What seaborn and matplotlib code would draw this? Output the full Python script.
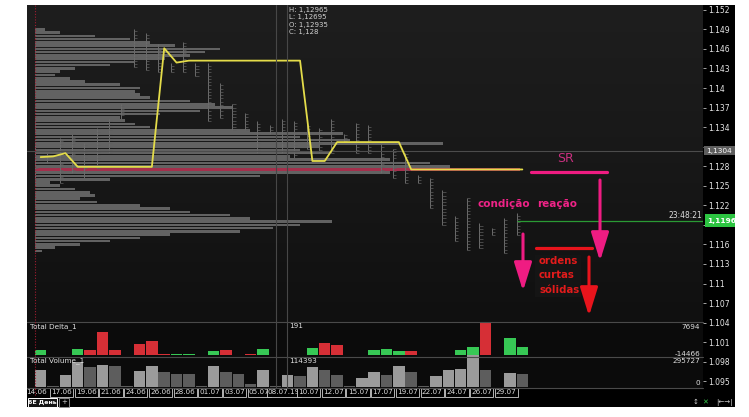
import numpy as np
import pandas as pd
import matplotlib
matplotlib.use("Agg")
import matplotlib.pyplot as plt
import seaborn as sns
from matplotlib.colors import LinearSegmentedColormap
from matplotlib.patches import Rectangle
from matplotlib.ticker import MultipleLocator, FuncFormatter

# ---------------- data ----------------
sessions = ['14.06', '16.06', '17.06', '18.06', '19.06', '20.06', '21.06', '23.06', '24.06', '25.06',
            '26.06', '27.06', '28.06', '30.06', '01.07', '02.07', '03.07', '04.07', '05.07', '07.07',
            '08.07', '09.07', '10.07', '11.07', '12.07', '14.07', '15.07', '16.07', '17.07', '18.07',
            '19.07', '21.07', '22.07', '23.07', '24.07', '25.07', '26.07', '28.07', '29.07', '30.07']
tick_labels = ['14.06', '17.06', '19.06', '21.06', '24.06', '26.06', '28.06', '01.07', '03.07', '05.07',
               '08.07.19', '10.07', '12.07', '15.07', '17.07', '19.07', '22.07', '24.07', '26.07', '29.07']
volume = [161000, 12000, 115000, 230000, 184000, 205000, 193000, 12000, 146000, 193000,
          140000, 124000, 124000, 12000, 193000, 137000, 121000, 31000, 156000, 12000,
          114393, 100000, 190000, 161000, 112000, 8000, 84000, 140000, 112000, 199000,
          140000, 6000, 106000, 156000, 165000, 295727, 156000, 3000, 131000, 121000]
volume_up = [1, 0, 1, 1, 0, 1, 0, 0, 1, 1,
             0, 0, 0, 0, 1, 0, 0, 0, 1, 0,
             1, 0, 1, 0, 0, 0, 1, 1, 0, 1,
             0, 0, 1, 1, 1, 1, 0, 0, 1, 0]
delta = [2500, -150, -200, 2900, -2340, -10200, -2190, -300, -4970, -6420,
         -500, 500, 400, 50, 1900, -2340, 300, -400, 2630, -100,
         191, 100, 3210, -5400, -4670, 100, 300, 2480, 2920, 1900,
         -1900, -100, -250, 300, 2480, 3800, -14466, 100, 7694, 3650]
yellow_line = [1.1294, 1.1295, 1.1300, 1.1279, 1.1279, 1.1279, 1.1279, 1.1279, 1.1279, 1.1279,
               1.1461, 1.1439, 1.1442, 1.1442, 1.1442, 1.1442, 1.1442, 1.1442, 1.1442, 1.1442,
               1.1442, 1.1442, 1.1288, 1.1288, 1.1317, 1.1317, 1.1317, 1.1317, 1.1317, 1.1317,
               1.1275, 1.1275, 1.1275, 1.1275, 1.1275, 1.1275, 1.1275, 1.1275, 1.1275, 1.1275]
day_high = [1.1315, 1.1300, 1.1323, 1.1330, 1.1315, 1.1338, 1.1353, 1.1376, 1.1491, 1.1485,
            1.1468, 1.1438, 1.1470, 1.1438, 1.1438, 1.1407, 1.1376, 1.1361, 1.1349, 1.1343,
            1.1353, 1.1349, 1.1346, 1.1338, 1.1353, 1.1330, 1.1346, 1.1343, 1.1315, 1.1307,
            1.1300, 1.1266, 1.1262, 1.1243, 1.1204, 1.1231, 1.1193, 1.1185, 1.1200, 1.1208]
day_low = [1.1262, 1.1285, 1.1254, 1.1269, 1.1262, 1.1277, 1.1300, 1.1353, 1.1432, 1.1427,
           1.1424, 1.1424, 1.1424, 1.1419, 1.1349, 1.1354, 1.1335, 1.1335, 1.1300, 1.1330,
           1.1300, 1.1292, 1.1307, 1.1300, 1.1300, 1.1318, 1.1300, 1.1300, 1.1269, 1.1262,
           1.1254, 1.1254, 1.1216, 1.1190, 1.1165, 1.1151, 1.1154, 1.1174, 1.1147, 1.1174]
profile_price = [1.1490, 1.1485, 1.1480, 1.1475, 1.1470, 1.1465, 1.1460, 1.1455, 1.1450, 1.1445,
                 1.1440, 1.1435, 1.1430, 1.1425, 1.1420, 1.1415, 1.1410, 1.1405, 1.1400, 1.1395,
                 1.1390, 1.1385, 1.1380, 1.1375, 1.1370, 1.1365, 1.1360, 1.1355, 1.1350, 1.1345,
                 1.1340, 1.1335, 1.1330, 1.1325, 1.1320, 1.1315, 1.1310, 1.1305, 1.1300, 1.1295,
                 1.1290, 1.1285, 1.1280, 1.1275, 1.1270, 1.1265, 1.1260, 1.1255, 1.1250, 1.1245,
                 1.1240, 1.1235, 1.1230, 1.1225, 1.1220, 1.1215, 1.1210, 1.1205, 1.1200, 1.1195,
                 1.1190, 1.1185, 1.1180, 1.1175, 1.1170, 1.1165, 1.1160, 1.1155, 1.1150]
profile_volume = [10, 25, 60, 95, 115, 140, 185, 170, 155, 130,
                  100, 75, 40, 25, 20, 35, 50, 85, 105, 100,
                  105, 115, 155, 180, 198, 165, 125, 85, 90, 100,
                  115, 215, 308, 265, 315, 408, 285, 265, 295, 255,
                  355, 395, 415, 485, 355, 225, 75, 15, 25, 40,
                  55, 60, 45, 62, 105, 135, 155, 195, 215, 297,
                  265, 238, 205, 135, 105, 75, 45, 20, 7]
ref_price = 1.1304
last_price = 1.1196
last_time = "23:48:21"
hloc_text = ["H: 1,12965", "L: 1,12695", "O: 1,12935", "C: 1,128"]
delta_max, delta_min = 7694, -14466
vol_max = 295727
cross_delta, cross_volume = 191, 114393

# ---------------- geometry helpers ----------------
W, H, DPI = 749, 417, 100
X0, X1 = 27, 703
BAR0_PX, BAR_STEP = 40.7, 12.35
P_REF_Y, P_REF, PX_PER_PRICE = 9.8, 1.152, 6517.0


def px_to_idx(px):
    return (px - BAR0_PX) / BAR_STEP


def py_to_price(py):
    return P_REF - (py - P_REF_Y) / PX_PER_PRICE


def price_to_py(p):
    return P_REF_Y + (P_REF - p) * PX_PER_PRICE


def box(x0, y0, x1, y1):
    return [x0 / W, 1 - y1 / H, (x1 - x0) / W, (y1 - y0) / H]


XLIM = (px_to_idx(X0), px_to_idx(X1))
NARROW = ['Liberation Sans Narrow', 'DejaVu Sans']

sns.set_theme(style="dark")
plt.rcParams['font.family'] = ['DejaVu Sans']

df = pd.DataFrame({'session': sessions, 'volume': volume, 'delta': delta})
df['idx'] = np.arange(len(df))
df['vol_dir'] = ['up' if u else 'down' for u in volume_up]
df['abs_delta'] = df['delta'].abs()
df['side'] = np.where(df['delta'] >= 0, 'buy', 'sell')

fig = plt.figure(figsize=(W / DPI, H / DPI), dpi=DPI, facecolor='white')

# background layer
bg = fig.add_axes([0, 0, 1, 1])
bg.set_xlim(0, W)
bg.set_ylim(H, 0)
bg.axis('off')
bg.add_patch(Rectangle((27, 5), 708, 402, color='black', lw=0))
bg.add_patch(Rectangle((27, 322), 676, 66, color='#0b0b0b', lw=0))

# ---------------- main price panel ----------------
ax = fig.add_axes(box(X0, 5, X1, 395))
ax.set_facecolor('none')
cmap = LinearSegmentedColormap.from_list('bgc', ['#1e1e1e', '#181818', '#101010'])
ax.imshow(np.linspace(0, 1, 256)[:, None], extent=(XLIM[0], XLIM[1], py_to_price(322), py_to_price(5)),
          origin='upper', aspect='auto', cmap=cmap, zorder=0)

# composite volume profile
prof_left = px_to_idx(35)
poc = int(np.argmax(profile_volume))
prof_colors = ['#626262'] * len(profile_volume)
prof_colors[poc] = '#a3304c'
ax.barh(profile_price, np.array(profile_volume) / BAR_STEP, left=prof_left, height=0.00040,
        color=prof_colors, lw=0, zorder=1)

# daily mini-profiles (range lines with small ticks)
for i, (hi, lo) in enumerate(zip(day_high, day_low)):
    xl = i - 0.47
    ax.vlines(xl, lo, hi, color='#6c6c6c', lw=0.7, zorder=2)
    lv = np.arange(lo, hi + 1e-9, 0.0005)
    ax.hlines(lv, xl, xl + 0.25, color='#5e5e5e', lw=0.5, zorder=2)

ax.axhline(ref_price, color='#4c4c4c', lw=0.8, zorder=3)
ax.hlines(last_price, len(sessions) - 1 - 0.47, XLIM[1], color='#2a9a34', lw=0.9, zorder=3)

sns.lineplot(x=df['idx'], y=yellow_line, ax=ax, color='#e4dc4a', linewidth=1.3, zorder=5)


def price_label(v, pos):
    # labels covered by the price boxes on the right axis are not shown
    if abs(v - ref_price) < 0.0015 or abs(v - last_price) < 0.0015:
        return ''
    return f"{round(v, 3):g}"


ax.set_xlim(*XLIM)
ax.set_ylim(py_to_price(395), py_to_price(5))
ax.yaxis.tick_right()
ax.yaxis.set_major_locator(MultipleLocator(0.003))
ax.yaxis.set_major_formatter(FuncFormatter(price_label))
ax.tick_params(axis='y', colors='#bdbdbd', labelcolor='#e6e6e6', labelsize=5.5,
               length=2.5, width=0.6, pad=1.5, direction='out')
ax.set_xticks([])
ax.set_xlabel('')
ax.set_ylabel('')
ax.grid(False)
for s in ax.spines.values():
    s.set_visible(False)

# ---------------- delta panel ----------------
axd = fig.add_axes(box(X0, 322, X1, 357))
axd.set_facecolor('none')
d_per_px = abs(delta_min) / (355.3 - 322)
sns.barplot(data=df, x='idx', y='abs_delta', hue='side', palette={'buy': '#1fe047', 'sell': '#f2131d'},
            dodge=False, width=0.93, errorbar=None, legend=False, native_scale=True, ax=axd,
            edgecolor='none', linewidth=0)
axd.set_xlim(*XLIM)
axd.set_ylim(-(357 - 355.3) * d_per_px, abs(delta_min))
axd.set_xticks([]); axd.set_yticks([])
axd.set_xlabel(''); axd.set_ylabel('')
for s in axd.spines.values():
    s.set_visible(False)

# ---------------- volume panel ----------------
axv = fig.add_axes(box(X0, 355, X1, 388))
axv.set_facecolor('none')
v_per_px = vol_max / (387 - 355.3)
sns.barplot(data=df, x='idx', y='volume', hue='vol_dir', palette={'up': '#9b9b9b', 'down': '#5d5d5d'},
            dodge=False, width=0.93, errorbar=None, legend=False, native_scale=True, ax=axv,
            edgecolor='none', linewidth=0)
axv.set_xlim(*XLIM)
axv.set_ylim(-(388 - 387) * v_per_px, vol_max + (355.3 - 355) * v_per_px)
axv.set_xticks([]); axv.set_yticks([])
axv.set_xlabel(''); axv.set_ylabel('')
for s in axv.spines.values():
    s.set_visible(False)

# ---------------- date row ----------------
axt = fig.add_axes(box(X0, 388, X1, 397))
axt.set_facecolor('none')
axt.set_xlim(*XLIM)
axt.set_ylim(0, 1)
axt.axis('off')
for k, lbl in enumerate(tick_labels):
    i = sessions.index(lbl[:5])
    kw = {}
    if k > 0:
        kw['bbox'] = dict(boxstyle='square,pad=0.18', fc='black', ec='#d0d0d0', lw=0.6)
    axt.text(i - 0.3, 0.5, lbl, ha='center', va='center', fontsize=5.2, color='#dddddd',
             family=NARROW, **kw)

# ---------------- overlay (UI + annotations) ----------------
ov = fig.add_axes([0, 0, 1, 1])
ov.set_xlim(0, W)
ov.set_ylim(H, 0)
ov.axis('off')
ov.set_facecolor('none')

# panel separators
for yy in (322, 357, 388):
    ov.plot([X0, X1], [yy, yy], color='#4a4a4a', lw=0.8)
# crosshair
for xx in (276, 287):
    ov.plot([xx, xx], [5, 388], color='#474747', lw=0.8)
# profile start line
ov.plot([35, 35], [5, 395], color='#a01c30', lw=0.8, ls=(0, (1, 1.5)))

# HLOC readout
for j, t in enumerate(hloc_text):
    ov.text(289, 10 + j * 7.4, t, ha='left', va='center', fontsize=5, color='#d2d2d2', family=NARROW)

# panel labels
ov.text(30, 326.5, 'Total Delta_1', ha='left', va='center', fontsize=5.2, color='#e0e0e0', family=NARROW)
ov.text(289, 326.5, f"{cross_delta}", ha='left', va='center', fontsize=5.2, color='#e0e0e0', family=NARROW)
ov.text(700, 327, f"{delta_max}", ha='right', va='center', fontsize=5.2, color='#e0e0e0', family=NARROW)
ov.text(700, 353.5, f"{delta_min}", ha='right', va='center', fontsize=5.2, color='#e0e0e0', family=NARROW)
ov.text(30, 361, 'Total Volume_1', ha='left', va='center', fontsize=5.2, color='#e0e0e0', family=NARROW)
ov.text(289, 361, f"{cross_volume}", ha='left', va='center', fontsize=5.2, color='#e0e0e0', family=NARROW)
ov.text(700, 361, f"{vol_max}", ha='right', va='center', fontsize=5.2, color='#e0e0e0', family=NARROW)
ov.text(700, 383, '0', ha='right', va='center', fontsize=5.2, color='#e0e0e0', family=NARROW)

# right axis boxes
yr = price_to_py(ref_price)
ov.add_patch(Rectangle((704, yr - 4.5), 31, 9, color='#5e5e5e', lw=0))
ov.text(706, yr, f"{ref_price:.4f}".replace('.', ','), ha='left', va='center', fontsize=5.3, color='white')
yl = price_to_py(last_price)
ov.add_patch(Rectangle((705, yl - 6.5), 30, 13, color='#2cc441', lw=0))
ov.text(707, yl, f"{last_price:.4f}".replace('.', ','), ha='left', va='center', fontsize=5.3,
        color='white', fontweight='bold')
ov.text(702, yl - 5.5, last_time, ha='right', va='center', fontsize=5.5, color='#dddddd')

# annotations
pink = '#ef1c82'
red = '#e8141c'
ov.text(565, 159, 'SR', ha='center', va='center', fontsize=9, color='#c9307f')
ov.plot([531, 607], [172, 172], color=pink, lw=2.3, solid_capstyle='round')
arrow_kw = dict(arrowstyle='-|>,head_length=1.45,head_width=0.45', lw=2.2, shrinkA=0, shrinkB=0)
ov.annotate('', xy=(600, 261), xytext=(600, 180), arrowprops=dict(color=pink, **arrow_kw))
ov.text(504, 204, 'condição', ha='center', va='center', fontsize=7.5, color='#ef2387', fontweight='bold')
ov.text(557, 204, 'reação', ha='center', va='center', fontsize=7.5, color='#ef2387', fontweight='bold')
ov.annotate('', xy=(523, 291), xytext=(523, 234), arrowprops=dict(color=pink, **arrow_kw))
ov.plot([536, 592], [248, 248], color=red, lw=2.3, solid_capstyle='round')
ov.annotate('', xy=(589, 316), xytext=(589, 257), arrowprops=dict(color=red, **arrow_kw))
ov.add_patch(Rectangle((535, 255), 46, 42, color='#151515', lw=0))
for j, t in enumerate(['ordens', 'curtas', 'sólidas']):
    ov.text(539, 261 + j * 14.5, t, ha='left', va='center', fontsize=7.3, color='#e31b1b', fontweight='bold')

# tab bar + icons
ov.add_patch(Rectangle((27.5, 398), 29.5, 8.5, fc='#141414', ec='white', lw=0.7))
ov.text(42, 402.3, '6E День', ha='center', va='center', fontsize=4.5, color='white', fontweight='bold',
        family=NARROW)
ov.add_patch(Rectangle((59, 398), 10, 8.5, fc='black', ec='#9a9a9a', lw=0.6))
ov.text(64, 402.3, '+', ha='center', va='center', fontsize=5, color='#cccccc')
ov.text(696, 402, '↕', ha='center', va='center', fontsize=5, color='#cccccc')
ov.text(705, 402, '✕', ha='center', va='center', fontsize=5, color='#35c94a')
ov.text(724, 402, '|←→|', ha='center', va='center', fontsize=5, color='#cccccc')

fig.savefig('out.png', dpi=DPI, facecolor='white')
